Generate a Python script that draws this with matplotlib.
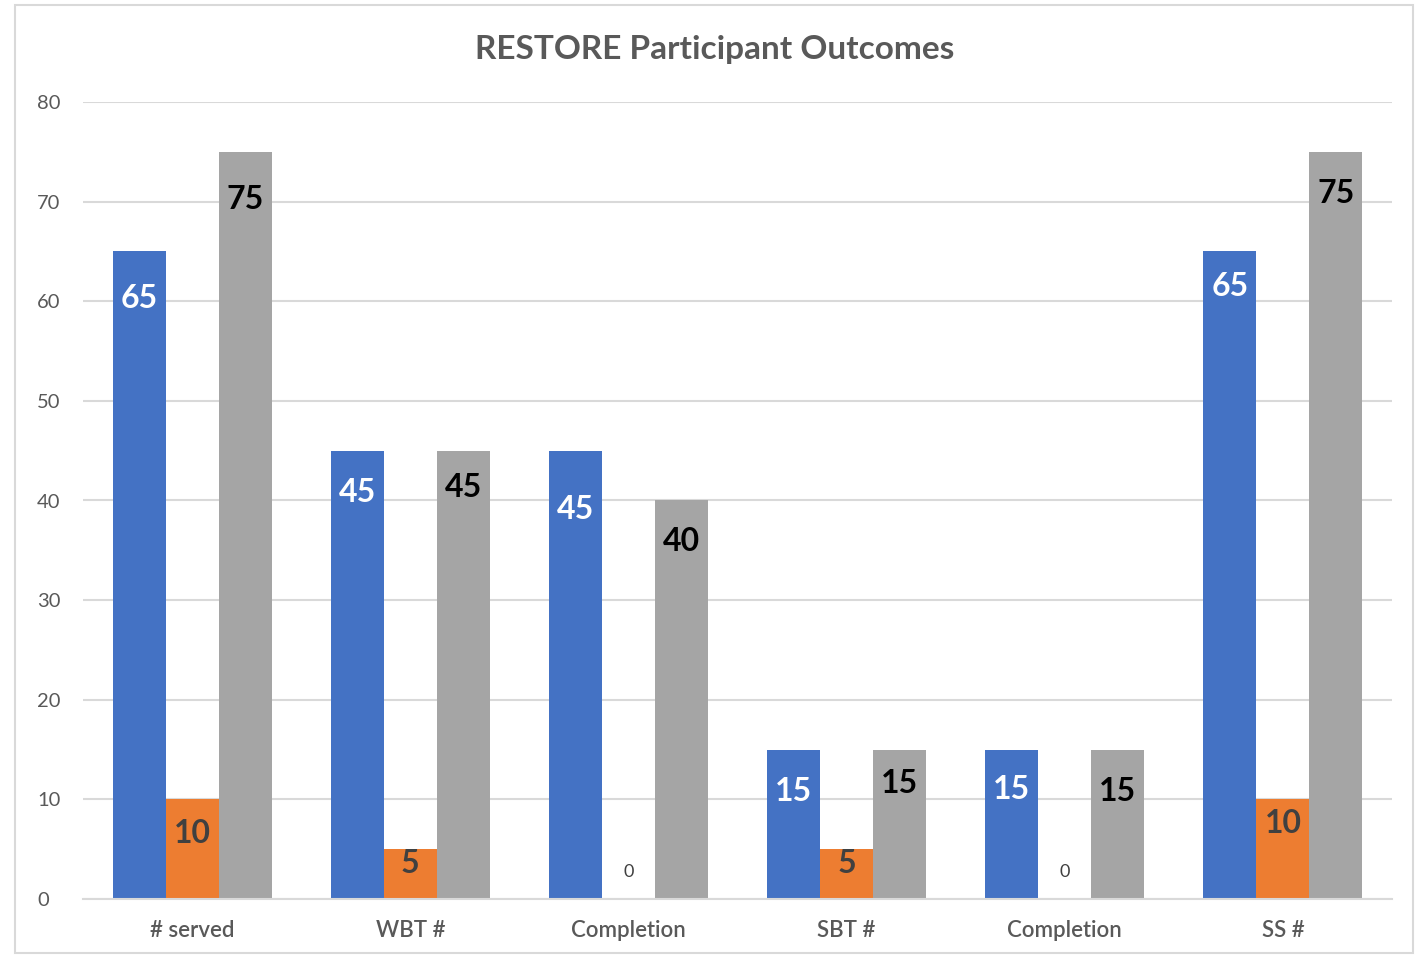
import matplotlib.pyplot as plt
from matplotlib.patches import Rectangle
import numpy as np

plt.rcParams['font.family'] = ['Lato', 'DejaVu Sans']

categories = ['# served', 'WBT #', 'Completion', 'SBT #', 'Completion', 'SS #']
blue_vals = [65, 45, 45, 15, 15, 65]
orange_vals = [10, 5, 0, 5, 0, 10]
gray_vals = [75, 45, 40, 15, 15, 75]

# where the value labels sit (data units)
blue_lab_y = [60.3, 40.8, 39.1, 10.8, 11.0, 61.5]
orange_lab_y = [6.6, 3.6, 2.7, 3.6, 2.7, 7.6]
gray_lab_y = [70.2, 41.3, 35.9, 11.6, 10.8, 70.8]

fig = plt.figure(figsize=(14.2, 9.55), dpi=100)
fig.patches.append(Rectangle((15/1420, 2/955), 1398/1420, 948/955, transform=fig.transFigure,
                             fill=False, edgecolor='#d9d9d9', lw=1.5))
ax = fig.add_axes([83/1420, 1-899/955, (1392-83)/1420, (899-102)/955])

x = np.arange(len(categories))
w = 0.243
series = [(blue_vals, blue_lab_y, '#4472C4', 'white'),
          (orange_vals, orange_lab_y, '#ED7D31', '#404040'),
          (gray_vals, gray_lab_y, '#A5A5A5', 'black')]
for i, (vals, laby, col, tcol) in enumerate(series):
    xs = x + (i-1)*w
    ax.bar(xs, vals, w, color=col, zorder=2)
    for xx, v, ly in zip(xs, vals, laby):
        if v == 0:
            ax.text(xx, ly, str(v), ha='center', va='center', fontsize=13, color='#404040', zorder=3)
        else:
            ax.text(xx, ly, str(v), ha='center', va='center', fontsize=23, fontweight='bold',
                    color=tcol, zorder=3)

ax.set_xlim(-0.5, 5.5)
ax.set_ylim(0, 80)
ax.set_yticks(range(0, 81, 10))
ax.set_xticks(x)
ax.set_xticklabels(categories)
ax.tick_params(axis='y', length=0, labelsize=14.5, colors='#595959', pad=33)
ax.tick_params(axis='x', length=0, labelsize=16, colors='#595959', pad=15)
for lbl in ax.get_yticklabels():
    lbl.set_horizontalalignment('left')
for lbl in ax.get_xticklabels():
    lbl.set_fontweight('semibold')
ax.grid(axis='y', color='#d9d9d9', lw=1.5, zorder=0)
for s in ['top', 'right', 'left']:
    ax.spines[s].set_visible(False)
ax.spines['bottom'].set_color('#d9d9d9')
ax.spines['bottom'].set_linewidth(1.5)

fig.text(715/1420, 1-50/955, 'RESTORE Participant Outcomes', ha='center', va='center',
         fontsize=24, fontweight='bold', color='#595959')

fig.savefig('out.png', dpi=100)
